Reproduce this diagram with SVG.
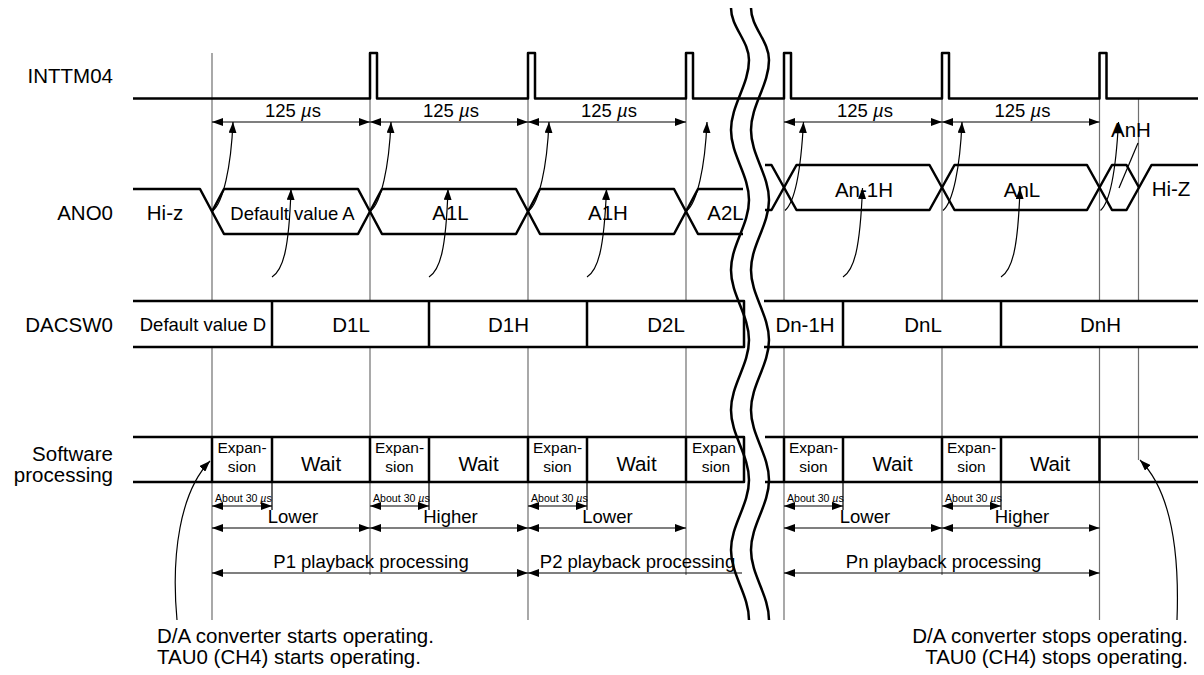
<svg xmlns="http://www.w3.org/2000/svg" width="1204" height="675" viewBox="0 0 1204 675">
<style>
.sig{fill:none;stroke:#000;stroke-width:2.5;stroke-linejoin:round}
.box{fill:#fff;stroke:#000;stroke-width:2.5}
.vl{stroke:#707070;stroke-width:1.2;fill:none}
.thin{stroke:#000;stroke-width:1.2;fill:none}
.dim{stroke:#000;stroke-width:1.2;fill:none;marker-start:url(#ah);marker-end:url(#ah)}
.cur{stroke:#000;stroke-width:1.2;fill:none;marker-end:url(#ah)}
text{font-family:"Liberation Sans",Arial,Helvetica,sans-serif;fill:#000}
.lbl{font-size:20.5px}
.lr{font-size:20.5px;text-anchor:end}
.c{text-anchor:middle}
.m{font-size:18.5px}
.s{font-size:15.5px}
.xs{font-size:10.6px}
</style>
<defs>
<marker id="ah" markerUnits="userSpaceOnUse" viewBox="0 0 11 8" markerWidth="11" markerHeight="8" refX="11" refY="4" orient="auto-start-reverse"><path d="M0,0 L11,4 L0,8 z" fill="#000"/></marker>
</defs>

<g id="labels">
<text class="lr" x="113" y="83">INTTM04</text>
<text class="lr" x="113" y="220">ANO0</text>
<text class="lr" x="113" y="332">DACSW0</text>
<text class="lr" x="113" y="461">Software</text>
<text class="lr" x="113" y="482">processing</text>
</g>

<g id="gridlines">
<path class="vl" d="M212,53V301M212,347V620M370,53V301M370,347V575M528,53V301M528,347V620M686,53V301M686,347V575M784,53V301M784,347V620M942,53V301M942,347V575M1099.5,53V301M1099.5,347V620M1138.5,98V301M1138.5,347V460"/>
<path class="thin" d="M272,482V510M429,482V510M587,482V510M843,482V510M1001,482V510"/>
</g>

<g id="inttm04">
<path class="sig" d="M133,98.5H370V53H377V98.5H528V53H535V98.5H686V53H693V98.5H784V53H791V98.5H942V53H949V98.5H1099.5V53H1106.5V98.5H1198"/>
</g>

<g id="ano0">
<path class="sig" d="M133,189H200L224,234H358L382,189H516L540,234H674L698,189H743"/>
<path class="sig" d="M212,211.5L224,189H358L382,234H516L540,189H674L698,234H743"/>
<path class="sig" d="M765,165H771.5L796.5,210H929.5L954.5,165H1087L1112,210H1126.5L1151.5,165H1198"/>
<path class="sig" d="M765,210H771.5L796.5,165H929.5L954.5,210H1087L1112,165H1126.5L1139,187.5"/>
<text class="lbl c" x="165" y="220">Hi-z</text>
<text class="m c" x="292.5" y="220">Default value A</text>
<text class="lbl c" x="450.5" y="220">A1L</text>
<text class="lbl c" x="608" y="220">A1H</text>
<text class="lbl c" x="725.5" y="220">A2L</text>
<text class="lbl c" x="864" y="197">An-1H</text>
<text class="lbl c" x="1022" y="197">AnL</text>
<text class="lbl c" x="1131" y="137">AnH</text>
<text class="lbl c" x="1171" y="196">Hi-Z</text>
<path class="thin" d="M1138,143L1119,188"/>
</g>

<g id="dacsw0">
<path class="sig" d="M133,301H744V347H133M272,301V347M429,301V347M587,301V347"/>
<path class="sig" d="M1198,301H764M764,347H1198M843,301V347M1001,301V347"/>
<text class="m c" x="203" y="331">Default value D</text>
<text class="lbl c" x="351" y="332">D1L</text>
<text class="lbl c" x="508.5" y="332">D1H</text>
<text class="lbl c" x="666" y="332">D2L</text>
<text class="lbl c" x="805" y="332">Dn-1H</text>
<text class="lbl c" x="923" y="332">DnL</text>
<text class="lbl c" x="1100.5" y="332">DnH</text>
</g>

<g id="software">
<path class="sig" d="M133,437H744V482H133M212,437V482M272,437V482M370,437V482M429,437V482M528,437V482M587,437V482M686,437V482"/>
<path class="sig" d="M765,437H1198M765,482H1198M784,437V482M843,437V482M942,437V482M1001,437V482M1099.5,437V482"/>
<g class="s c">
<text x="242" y="453">Expan-</text><text x="242" y="472">sion</text>
<text x="399.5" y="453">Expan-</text><text x="399.5" y="472">sion</text>
<text x="557.5" y="453">Expan-</text><text x="557.5" y="472">sion</text>
<text x="716" y="472">sion</text>
<text x="813.5" y="453">Expan-</text><text x="813.5" y="472">sion</text>
<text x="971.5" y="453">Expan-</text><text x="971.5" y="472">sion</text>
</g>
<text class="s" x="692" y="453">Expan</text>
<g class="lbl c">
<text x="321" y="471">Wait</text>
<text x="478.5" y="471">Wait</text>
<text x="636.5" y="471">Wait</text>
<text x="892.5" y="471">Wait</text>
<text x="1050" y="471">Wait</text>
</g>
</g>

<g id="break">
<path class="sig" d="M731,8C731,27 749,41 749,60C749,85 731,105 731,130C731,155 749,175 749,200C749,225 731,245 731,270C731,295 749,315 749,340C749,365 731,385 731,410C731,435 749,455 749,480C749,505 731,525 731,550C731,575 749,595 749,620"/>
<path class="sig" d="M751,8C751,27 769,41 769,60C769,85 751,105 751,130C751,155 769,175 769,200C769,225 751,245 751,270C751,295 769,315 769,340C769,365 751,385 751,410C751,435 769,455 769,480C769,505 751,525 751,550C751,575 769,595 769,620"/>
</g>

<g id="connectors">
<path class="dim" d="M212,122H370"/>
<path class="dim" d="M370,122H528"/>
<path class="dim" d="M528,122H686"/>
<path class="dim" d="M784,122H942"/>
<path class="dim" d="M942,122H1099.5"/>
<g class="m c">
<text x="293" y="117">125 <tspan font-style="italic">µ</tspan>s</text>
<text x="451" y="117">125 <tspan font-style="italic">µ</tspan>s</text>
<text x="609" y="117">125 <tspan font-style="italic">µ</tspan>s</text>
<text x="865" y="117">125 <tspan font-style="italic">µ</tspan>s</text>
<text x="1022.5" y="117">125 <tspan font-style="italic">µ</tspan>s</text>
</g>
<path class="cur" d="M213,210.5C223,202 231,168 233,122"/>
<path class="cur" d="M371,210.5C381,202 389,168 391,122"/>
<path class="cur" d="M529,210.5C539,202 547,168 549,122"/>
<path class="cur" d="M687,210.5C697,202 705,168 707,122"/>
<path class="cur" d="M785,210.5C795,202 801,168 803.5,122"/>
<path class="cur" d="M943,210.5C953,202 960,168 962,122"/>
<path class="cur" d="M1100.5,210.5C1110,202 1116,168 1118.5,122"/>
<path class="cur" d="M272,277C283,270 289,250 291,189"/>
<path class="cur" d="M429,277C440,270 446,250 448,189"/>
<path class="cur" d="M587,277C598,270 604,250 606.5,189"/>
<path class="cur" d="M843,277C854,270 860,250 862.5,188"/>
<path class="cur" d="M1001,277C1012,270 1018,250 1020,188"/>
<path class="dim" d="M212,506H272"/>
<path class="dim" d="M370,506H429"/>
<path class="dim" d="M528,506H587"/>
<path class="dim" d="M784,506H843"/>
<path class="dim" d="M942,506H1001"/>
<g class="xs">
<text x="215" y="502">About 30 <tspan font-style="italic">µ</tspan>s</text>
<text x="373" y="502">About 30 <tspan font-style="italic">µ</tspan>s</text>
<text x="531" y="502">About 30 <tspan font-style="italic">µ</tspan>s</text>
<text x="787" y="502">About 30 <tspan font-style="italic">µ</tspan>s</text>
<text x="945" y="502">About 30 <tspan font-style="italic">µ</tspan>s</text>
</g>
<path class="dim" d="M212,528H370"/>
<path class="dim" d="M370,528H528"/>
<path class="dim" d="M528,528H686"/>
<path class="dim" d="M784,528H942"/>
<path class="dim" d="M942,528H1099.5"/>
<g class="m c">
<text x="293" y="523">Lower</text>
<text x="450.5" y="523">Higher</text>
<text x="607.5" y="523">Lower</text>
<text x="865" y="523">Lower</text>
<text x="1022" y="523">Higher</text>
</g>
<path class="dim" d="M212,573H528"/>
<path class="thin" d="M528,573H742" marker-start="url(#ah)"/>
<path class="dim" d="M784,573H1099.5"/>
<g class="m c">
<text x="371" y="568">P1 playback processing</text>
<text x="637.5" y="568">P2 playback processing</text>
<text x="943.5" y="568">Pn playback processing</text>
</g>
<path class="cur" d="M177,620C171,555 180,492 210,461"/>
<path class="cur" d="M1177,620C1180,540 1168,488 1140,460"/>
</g>

<g id="notes">
<text class="lbl" x="157" y="643">D/A converter starts operating.</text>
<text class="lbl" x="157" y="664">TAU0 (CH4) starts operating.</text>
<text class="lbl" x="1188" y="643" text-anchor="end">D/A converter stops operating.</text>
<text class="lbl" x="1188" y="664" text-anchor="end">TAU0 (CH4) stops operating.</text>
</g>
</svg>
